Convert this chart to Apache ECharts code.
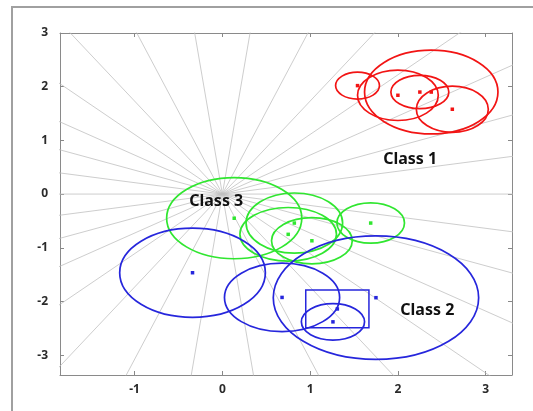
<!DOCTYPE html>
<html>
<head>
<meta charset="utf-8">
<script src="https://cdn.jsdelivr.net/npm/echarts@6/dist/echarts.min.js"></script>
<style>
  html, body { margin: 0; padding: 0; background: #fff; }
  #chart { width: 533px; height: 411px; }
</style>
</head>
<body>
<div id="chart"></div>
<script>
// 坐标轴刻度
const xTicks = [-1, 0, 1, 2, 3]
const yTicks = [-3, -2, -1, 0, 1, 2, 3]

// 背景射线：中心点 + 角度（度）
const rayCenter = [0, 0]
const rayAngles = [0, 12, 24, 36, 48, 60, 72, 84, 96, 108, 120, 132, 144, 156, 168]

// Class 1 红色
const class1Centers = [[1.54, 2.02], [2.38, 1.9], [2.0, 1.84], [2.25, 1.9], [2.62, 1.58]]
const class1Radii = [[0.25, 0.25], [0.76, 0.78], [0.46, 0.47], [0.33, 0.31], [0.41, 0.43]]

// Class 2 蓝色
const class2Centers = [[-0.34, -1.465], [0.68, -1.925], [1.75, -1.93], [1.26, -2.38]]
const class2Radii = [[0.83, 0.83], [0.656, 0.638], [1.17, 1.15], [0.36, 0.34]]
const class2Box = [0.95, -2.49, 1.67, -1.785]
const class2BoxDot = [1.31, -2.14]

// Class 3 绿色
const class3Centers = [[0.135, -0.45], [0.82, -0.54], [0.75, -0.75], [1.02, -0.87], [1.69, -0.54]]
const class3Radii = [[0.77, 0.755], [0.55, 0.56], [0.55, 0.5], [0.46, 0.43], [0.385, 0.375]]

// 文字标注
const classLabels = [
  { name: 'Class 1', value: [2.14, 0.65] },
  { name: 'Class 2', value: [2.335, -2.17] },
  { name: 'Class 3', value: [-0.07, -0.14] },
]

const RED = '#f21414'
const BLUE = '#2626dc'
const GREEN = '#30e630'

// 射线两端（裁剪在网格内）
const raySeries = rayAngles.map((a) => {
  const r = 20
  const t = (a * Math.PI) / 180
  return {
    type: 'line',
    silent: true,
    symbol: 'none',
    clip: true,
    z: 1,
    lineStyle: { color: '#c0c0c0', width: 0.8 },
    data: [
      [rayCenter[0] - r * Math.cos(t), rayCenter[1] - r * Math.sin(t)],
      [rayCenter[0] + r * Math.cos(t), rayCenter[1] + r * Math.sin(t)],
    ],
  }
})

function ellipseSeries(centers, radii, color) {
  return {
    type: 'custom',
    silent: true,
    z: 3,
    data: centers.map((c, i) => [c[0], c[1], radii[i][0], radii[i][1]]),
    renderItem: function (params, api) {
      const p = api.coord([api.value(0), api.value(1)])
      const s = api.size([api.value(2), api.value(3)])
      return {
        type: 'ellipse',
        shape: { cx: p[0], cy: p[1], rx: s[0], ry: s[1] },
        style: { fill: 'none', stroke: color, lineWidth: 1.7 },
      }
    },
  }
}

function dotSeries(points, color) {
  return {
    type: 'scatter',
    silent: true,
    symbol: 'rect',
    symbolSize: 3.5,
    z: 4,
    itemStyle: { color: color, opacity: 1 },
    data: points,
  }
}

const tickStyle = { color: '#888', width: 1 }

const option = {
  backgroundColor: '#fff',
  animation: false,
  grid: { left: 60, top: 33, right: 21, bottom: 36, show: false },
  graphic: [
    {
      type: 'rect',
      shape: { x: 12, y: 7, width: 560, height: 440 },
      style: { fill: 'none', stroke: '#a0a0a0', lineWidth: 2 },
      silent: true,
    },
  ],
  xAxis: [
    {
      type: 'value',
      min: -1.85,
      max: 3.3,
      position: 'bottom',
      splitLine: { show: false },
      axisLine: { show: true, onZero: false, lineStyle: { color: '#8a8a8a', width: 1 } },
      axisTick: { show: true, inside: true, length: 4, lineStyle: tickStyle, customValues: xTicks },
      axisLabel: {
        customValues: xTicks,
        margin: 9,
        color: '#2a2a2a',
        fontSize: 12,
        fontWeight: 'bold',
        fontFamily: 'Noto Sans',
      },
    },
    {
      type: 'value',
      min: -1.85,
      max: 3.3,
      position: 'top',
      splitLine: { show: false },
      axisLine: { show: true, onZero: false, lineStyle: { color: '#8a8a8a', width: 1 } },
      axisTick: { show: true, inside: true, length: 4, lineStyle: tickStyle, customValues: xTicks },
      axisLabel: { show: false },
    },
  ],
  yAxis: [
    {
      type: 'value',
      min: -3.37,
      max: 3,
      position: 'left',
      splitLine: { show: false },
      axisLine: { show: true, onZero: false, lineStyle: { color: '#8a8a8a', width: 1 } },
      axisTick: { show: true, inside: true, length: 4, lineStyle: tickStyle, customValues: yTicks },
      axisLabel: {
        customValues: yTicks,
        margin: 12,
        color: '#2a2a2a',
        fontSize: 12,
        fontWeight: 'bold',
        fontFamily: 'Noto Sans',
      },
    },
    {
      type: 'value',
      min: -3.37,
      max: 3,
      position: 'right',
      splitLine: { show: false },
      axisLine: { show: true, onZero: false, lineStyle: { color: '#8a8a8a', width: 1 } },
      axisTick: { show: true, inside: true, length: 4, lineStyle: tickStyle, customValues: yTicks },
      axisLabel: { show: false },
    },
  ],
  series: [
    ...raySeries,
    ellipseSeries(class3Centers, class3Radii, GREEN),
    ellipseSeries(class1Centers, class1Radii, RED),
    ellipseSeries(class2Centers, class2Radii, BLUE),
    {
      // Class 2 方框
      type: 'custom',
      silent: true,
      z: 3,
      data: [class2Box],
      renderItem: function (params, api) {
        const a = api.coord([api.value(0), api.value(1)])
        const b = api.coord([api.value(2), api.value(3)])
        return {
          type: 'rect',
          shape: { x: a[0], y: b[1], width: b[0] - a[0], height: a[1] - b[1] },
          style: { fill: 'none', stroke: BLUE, lineWidth: 1.5 },
        }
      },
    },
    dotSeries(class1Centers, RED),
    dotSeries(class2Centers.concat([class2BoxDot]), BLUE),
    dotSeries(class3Centers, GREEN),
    {
      type: 'scatter',
      silent: true,
      symbolSize: 0,
      z: 5,
      itemStyle: { opacity: 1 },
      data: classLabels,
      label: {
        show: true,
        position: 'inside',
        formatter: '{b}',
        color: '#111',
        opacity: 1,
        fontSize: 16,
        fontWeight: 'bold',
        fontFamily: 'Noto Sans',
      },
    },
  ],
}

echarts.init(document.getElementById('chart')).setOption(option)
</script>
</body>
</html>
